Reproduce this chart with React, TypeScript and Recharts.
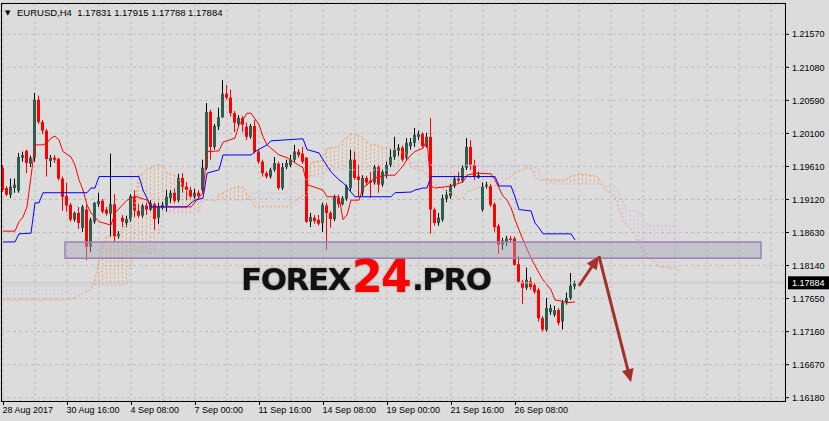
import React from 'react';
import { ComposedChart, Bar, Line, XAxis, YAxis, CartesianGrid, ReferenceArea, ReferenceLine } from 'recharts';

const W = 829;
const H = 421;
const BG = '#dcdcdc';
const FONT = "'Liberation Sans', Arial, sans-serif";

// ---- EURUSD H4 candles (bar 0 = 28 Aug 2017 00:00) ----
const candleOpen = [
  1.1959,1.1929,1.1919,1.1929,1.1925,1.1974,1.1984,1.1965,1.1974,1.2060,
  1.2027,1.2014,1.1969,1.1974,1.1972,1.1943,1.1917,1.1904,1.1882,1.1892,
  1.1870,1.1897,1.1842,1.1879,1.1905,1.1910,1.1897,1.1891,1.1905,1.1857,
  1.1885,1.1877,1.1882,1.1916,1.1895,1.1888,1.1903,1.1897,1.1905,1.1885,
  1.1900,1.1903,1.1914,1.1922,1.1911,1.1944,1.1931,1.1926,1.1916,1.1922,
  1.1926,1.1959,1.2042,1.1990,1.2020,1.2034,1.2069,1.2063,1.2040,1.2024,
  1.2033,1.2020,1.2005,1.2021,1.1983,1.1968,1.1951,1.1946,1.1956,1.1965,
  1.1929,1.1960,1.1963,1.1971,1.1983,1.1980,1.1974,1.1879,1.1885,1.1882,
  1.1877,1.1903,1.1892,1.1883,1.1914,1.1905,1.1913,1.1929,1.1971,1.1946,
  1.1922,1.1944,1.1940,1.1937,1.1960,1.1934,1.1949,1.1963,1.1975,1.1984,
  1.1989,1.1974,1.1991,1.1996,1.2005,1.2009,1.1991,1.2005,1.1897,1.1877,
  1.1882,1.1913,1.1917,1.1932,1.1943,1.1940,1.1959,1.1990,1.1963,1.1944,
  1.1897,1.1931,1.1932,1.1905,1.1873,1.1845,1.1849,1.1854,1.1854,1.1816,
  1.1790,1.1781,1.1791,1.1785,1.1778,1.1736,1.1719,1.1745,1.1741,1.1748,
  1.1731,1.1759,1.1766,1.17831,
];
const candleHigh = [
  1.1963,1.1932,1.1943,1.1943,1.1981,1.1983,1.1986,1.1977,1.2070,1.2066,
  1.2030,1.2017,1.1978,1.1978,1.1974,1.1946,1.1937,1.1907,1.1894,1.1901,
  1.1904,1.1904,1.1885,1.1908,1.1922,1.1913,1.1901,1.1980,1.1920,1.1865,
  1.1889,1.1888,1.1920,1.1926,1.1905,1.1905,1.1907,1.1911,1.1907,1.1907,
  1.1908,1.1926,1.1926,1.1928,1.1950,1.1951,1.1938,1.1931,1.1928,1.1926,
  1.1971,1.2055,1.2045,1.2024,1.2048,1.2089,1.2082,1.2075,1.2043,1.2037,
  1.2036,1.2026,1.2024,1.2030,1.1986,1.1971,1.1954,1.1959,1.1975,1.1968,
  1.1966,1.1971,1.1978,1.1993,1.1987,1.1990,1.1975,1.1892,1.1889,1.1889,
  1.1907,1.1907,1.1895,1.1919,1.1919,1.1917,1.1934,1.1986,1.1983,1.1963,
  1.1948,1.1947,1.1953,1.1963,1.1963,1.1956,1.1968,1.1986,1.2005,1.1994,
  1.1992,1.2003,1.2003,1.2018,1.2014,1.2012,1.2011,1.2033,1.1900,1.1892,
  1.1919,1.1926,1.1935,1.1947,1.1953,1.1963,1.2003,1.2000,1.1971,1.1953,
  1.1937,1.1938,1.1935,1.1908,1.1876,1.1855,1.1858,1.1858,1.1857,1.1828,
  1.1793,1.1811,1.1797,1.1788,1.1781,1.1739,1.1766,1.1756,1.1754,1.1751,
  1.1763,1.1774,1.1803,1.17915,
];
const candleLow = [
  1.1923,1.1917,1.1914,1.1922,1.1922,1.1968,1.1951,1.1960,1.1968,1.2024,
  1.2009,1.1946,1.1960,1.1966,1.1940,1.1895,1.1894,1.1879,1.1879,1.1868,
  1.1864,1.1822,1.1834,1.1876,1.1901,1.1891,1.1888,1.1857,1.1848,1.1854,
  1.1871,1.1871,1.1879,1.1886,1.1885,1.1885,1.1889,1.1895,1.1867,1.1876,
  1.1897,1.1894,1.1907,1.1907,1.1908,1.1922,1.1911,1.1913,1.1913,1.1914,
  1.1922,1.1956,1.1971,1.1986,1.2015,1.2033,1.2060,1.2035,1.2012,1.2021,
  1.2012,1.2000,1.2002,1.1980,1.1965,1.1946,1.1943,1.1943,1.1953,1.1926,
  1.1926,1.1957,1.1960,1.1968,1.1974,1.1965,1.1877,1.1871,1.1876,1.1873,
  1.1864,1.1837,1.1870,1.1880,1.1900,1.1903,1.1910,1.1925,1.1941,1.1916,
  1.1917,1.1932,1.1914,1.1934,1.1922,1.1931,1.1944,1.1960,1.1971,1.1977,
  1.1968,1.1971,1.1986,1.1990,1.2000,1.1989,1.1989,1.1861,1.1873,1.1873,
  1.1879,1.1908,1.1913,1.1929,1.1937,1.1937,1.1956,1.1956,1.1941,1.1943,
  1.1894,1.1928,1.1901,1.1864,1.1831,1.1837,1.1843,1.1849,1.1814,1.1788,
  1.1757,1.1778,1.1778,1.1772,1.1731,1.1716,1.1716,1.1741,1.1738,1.1725,
  1.1719,1.1756,1.1763,1.17788,
];
const candleClose = [
  1.1926,1.1919,1.1931,1.1934,1.1975,1.1978,1.1966,1.1974,1.2060,1.2027,
  1.2014,1.1972,1.1974,1.1971,1.1943,1.1916,1.1903,1.1882,1.1892,1.1877,
  1.1901,1.1842,1.1882,1.1907,1.1910,1.1894,1.1891,1.1905,1.1857,1.1861,
  1.1879,1.1883,1.1917,1.1895,1.1888,1.1903,1.1897,1.1907,1.1883,1.1901,
  1.1904,1.1916,1.1922,1.1910,1.1944,1.1931,1.1926,1.1916,1.1922,1.1917,
  1.1959,1.2042,1.1990,1.2021,1.2034,1.2069,1.2063,1.2040,1.2026,1.2033,
  1.2023,1.2005,1.2021,1.1983,1.1968,1.1951,1.1946,1.1956,1.1966,1.1929,
  1.1960,1.1966,1.1971,1.1983,1.1978,1.1968,1.1879,1.1886,1.1880,1.1876,
  1.1904,1.1892,1.1883,1.1916,1.1905,1.1914,1.1931,1.1971,1.1944,1.1941,
  1.1944,1.1937,1.1937,1.1960,1.1934,1.1953,1.1963,1.1975,1.1986,1.1989,
  1.1971,1.1996,1.1997,1.2008,1.2009,1.1991,1.2005,1.1897,1.1877,1.1885,
  1.1914,1.1919,1.1932,1.1943,1.1940,1.1959,1.1990,1.1963,1.1946,1.1948,
  1.1931,1.1934,1.1904,1.1871,1.1845,1.1851,1.1854,1.1852,1.1815,1.1790,
  1.1781,1.1793,1.1782,1.1775,1.1736,1.1719,1.1751,1.1751,1.1748,1.1729,
  1.1759,1.1766,1.1784,1.17884,
];

// ---- Ichimoku: Tenkan-sen (red) vertices ----
const tenkanBars = [0,3,4,5,6,7,8,10,11,12,13,14,15,17,18,19,20,21,22,24,27,28,31,33,36,37,47,48,50,51,54,55,58,59,60,61,62,64,65,66,69,71,75,76,80,81,84,85,86,87,89,90,93,96,98,100,101,102,103,105,106,107,108,111,113,115,116,118,122,123,125,126,127,128,130,132,134,135,137,138,139,141,143];
const tenkanVals = [1.1865,1.1865,1.1879,1.1886,1.1901,1.1946,1.1993,1.1993,1.1996,1.2003,1.2006,1.2000,1.1983,1.1975,1.1963,1.1941,1.1926,1.1904,1.1892,1.1879,1.1874,1.1892,1.1911,1.1917,1.1911,1.1901,1.1901,1.1908,1.1922,1.1983,1.1984,1.1997,1.2003,1.2023,1.2030,1.2040,1.2040,1.2023,1.2005,1.1993,1.1978,1.1974,1.1959,1.1934,1.1926,1.1916,1.1916,1.1882,1.1889,1.1911,1.1911,1.1929,1.1944,1.1948,1.1948,1.1962,1.1971,1.1978,1.1983,1.1988,1.2000,1.1932,1.1929,1.1931,1.1934,1.1938,1.1948,1.1951,1.1950,1.1941,1.1917,1.1911,1.1900,1.1882,1.1852,1.1825,1.1803,1.1793,1.1778,1.1763,1.1762,1.1759,1.1760];

// ---- Kijun-sen (blue) vertices ----
const kijunBars = [0,3,4,7,8,9,10,21,22,23,24,34,35,36,37,46,47,48,50,51,54,55,62,63,66,67,75,76,79,80,82,84,85,88,97,98,102,103,105,106,107,123,124,127,128,129,132,133,134,135,142,143];
const kijunVals = [1.1849,1.1849,1.1861,1.1862,1.1907,1.1907,1.1922,1.1922,1.1929,1.1929,1.1946,1.1946,1.1926,1.1914,1.1901,1.1901,1.1907,1.1911,1.1914,1.1951,1.1956,1.1978,1.1978,1.1983,1.1993,1.1999,1.2002,1.1986,1.1981,1.1971,1.1953,1.1941,1.1937,1.1916,1.1916,1.1922,1.1923,1.1926,1.1929,1.1929,1.1946,1.1946,1.1932,1.1932,1.1916,1.1897,1.1895,1.1877,1.1870,1.1861,1.1861,1.1852];

// ---- Senkou Span A (sandybrown) and B (thistle), per bar, 26 bars ahead ----
const senkouA = [
  1.1763,1.1763,1.1763,1.1763,1.1763,1.1763,1.1763,1.1763,1.1763,1.1763,
  1.1763,1.1763,1.1763,1.1763,1.1763,1.1763,1.1763,1.1763,1.1766,1.1769,
  1.1773,1.1775,1.1778,1.1793,1.1822,1.1848,1.1857,1.1857,1.1857,1.1857,
  1.1870,1.1874,1.1882,1.1904,1.1950,1.1950,1.1957,1.1959,1.1963,1.1964,
  1.1961,1.1952,1.1950,1.1948,1.1943,1.1931,1.1924,1.1913,1.1911,1.1908,
  1.1912,1.1911,1.1911,1.1910,1.1919,1.1922,1.1925,1.1928,1.1930,1.1931,
  1.1931,1.1920,1.1913,1.1901,1.1901,1.1901,1.1901,1.1901,1.1901,1.1901,
  1.1901,1.1901,1.1901,1.1908,1.1914,1.1918,1.1918,1.1967,1.1968,1.1969,
  1.1970,1.1988,1.1989,1.1990,1.1991,1.2000,1.2004,1.2009,1.2009,1.2007,
  1.2004,1.1997,1.1993,1.1994,1.1991,1.1989,1.1989,1.1987,1.1986,1.1983,
  1.1982,1.1980,1.1960,1.1957,1.1956,1.1954,1.1948,1.1939,1.1934,1.1931,
  1.1928,1.1923,1.1922,1.1917,1.1914,1.1914,1.1923,1.1925,1.1928,1.1930,
  1.1931,1.1931,1.1932,1.1932,1.1935,1.1939,1.1942,1.1946,1.1951,1.1954,
  1.1957,1.1959,1.1958,1.1946,1.1940,1.1942,1.1942,1.1941,1.1941,1.1941,
  1.1941,1.1942,1.1947,1.1948,1.1949,1.1949,1.1949,1.1948,1.1948,1.1943,
  1.1931,1.1925,1.1922,1.1916,1.1899,1.1882,1.1874,1.1867,1.1860,1.1846,
  1.1837,1.1827,1.1823,1.1819,1.1812,1.1811,1.1811,1.1810,1.1811,1.1806,
];
const senkouB = [
  1.1785,1.1785,1.1785,1.1785,1.1785,1.1785,1.1785,1.1785,1.1785,1.1785,
  1.1785,1.1785,1.1785,1.1785,1.1785,1.1785,1.1785,1.1785,1.1785,1.1785,
  1.1785,1.1785,1.1785,1.1785,1.1785,1.1785,1.1785,1.1785,1.1785,1.1785,
  1.1785,1.1785,1.1808,1.1833,1.1833,1.1833,1.1833,1.1833,1.1833,1.1859,
  1.1892,1.1892,1.1892,1.1892,1.1892,1.1892,1.1892,1.1892,1.1892,1.1892,
  1.1911,1.1911,1.1911,1.1911,1.1911,1.1911,1.1911,1.1911,1.1911,1.1911,
  1.1911,1.1911,1.1922,1.1922,1.1922,1.1922,1.1922,1.1922,1.1922,1.1922,
  1.1922,1.1922,1.1941,1.1941,1.1941,1.1941,1.1941,1.1946,1.1946,1.1946,
  1.1946,1.1956,1.1956,1.1956,1.1956,1.1956,1.1956,1.1956,1.1956,1.1956,
  1.1956,1.1956,1.1956,1.1956,1.1956,1.1956,1.1956,1.1956,1.1956,1.1962,
  1.1968,1.1968,1.1968,1.1968,1.1968,1.1968,1.1971,1.1963,1.1963,1.1963,
  1.1963,1.1963,1.1963,1.1963,1.1963,1.1963,1.1963,1.1963,1.1963,1.1963,
  1.1963,1.1963,1.1963,1.1963,1.1963,1.1963,1.1963,1.1963,1.1963,1.1963,
  1.1963,1.1963,1.1963,1.1960,1.1956,1.1940,1.1937,1.1937,1.1935,1.1935,
  1.1935,1.1935,1.1935,1.1935,1.1935,1.1935,1.1935,1.1935,1.1935,1.1935,
  1.1932,1.1932,1.1932,1.1932,1.1923,1.1911,1.1895,1.1895,1.1895,1.1895,
  1.1882,1.1874,1.1874,1.1874,1.1874,1.1874,1.1874,1.1874,1.1874,1.1874,
];

// ---- axes ----
const xLabelBars = [0, 16, 32, 48, 64, 80, 96, 112, 128];
const xLabels = ['28 Aug 2017', '30 Aug 16:00', '4 Sep 08:00', '7 Sep 00:00', '11 Sep 16:00', '14 Sep 08:00', '19 Sep 00:00', '21 Sep 16:00', '26 Sep 08:00'];
const yTicks = [1.2157, 1.2108, 1.2059, 1.201, 1.1961, 1.1912, 1.1863, 1.1814, 1.1765, 1.1716, 1.1667, 1.1618];
const yDomain = [1.16131, 1.22034];

// ---- annotations ----
const lastOHLC = ['1.17831', '1.17915', '1.17788', '1.17884'];
const lastPrice = 1.17884;
const zoneBars = [16, 189];
const zonePrices = [1.1825, 1.1849];
const arrowUp = [{ x: 144, y: 1.1784 }, { x: 149, y: 1.1828 }];
const arrowDown = [{ x: 149, y: 1.1828 }, { x: 157, y: 1.1641 }];

const SLOTS = 196;
const gridTicks = Array.from({ length: 25 }, (_, k) => k * 8);

const rows: any[] = Array.from({ length: SLOTS }, (_, i) => {
  const r: any = { i };
  if (i < candleOpen.length) {
    r.open = candleOpen[i];
    r.high = candleHigh[i];
    r.low = candleLow[i];
    r.close = candleClose[i];
  }
  if (i < senkouA.length) {
    r.spanA = senkouA[i];
    r.spanB = senkouB[i];
  }
  return r;
});
tenkanBars.forEach((b, k) => { rows[b].tenkan = tenkanVals[k]; });
kijunBars.forEach((b, k) => { rows[b].kijun = kijunVals[k]; });

const Candle = (props: any) => {
  const { x, y, width, height, payload } = props;
  if (!payload || payload.open == null || height == null) return null;
  const { open, close, high, low } = payload;
  const k = high - low > 0 ? height / (high - low) : 0;
  const cx = Math.round(x + width / 2) - 0.5;
  const oy = y + (high - open) * k;
  const cy = y + (high - close) * k;
  const bull = close >= open;
  const top = Math.min(oy, cy);
  const bh = Math.max(1, Math.abs(cy - oy));
  const col = bull ? '#2f5e51' : '#ff0000';
  return (
    <g>
      <line x1={cx} x2={cx} y1={y} y2={y + Math.max(1, height)} stroke={bull ? '#000' : '#ff0000'} strokeWidth={1} />
      <rect x={cx - 1.5} y={top} width={3} height={bh} fill={col} />
    </g>
  );
};

const Hatch = (props: any) => {
  const { x, y, width, height, payload } = props;
  if (!payload || payload.spanA == null || !height) return null;
  const up = payload.spanA >= payload.spanB;
  const cx = Math.round(x + width / 2) - 0.5;
  return <line x1={cx} x2={cx} y1={y} y2={y + height} stroke={up ? '#f4a460' : '#d8bfd8'} strokeWidth={1} strokeDasharray="2 2" strokeOpacity={0.9} />;
};

const XTick = (props: any) => {
  const { x, payload } = props;
  const idx = xLabelBars.indexOf(payload.value);
  if (idx < 0) return null;
  const px = Math.round(x) + 0.5;
  return (
    <g>
      <line x1={px} x2={px} y1={401} y2={405} stroke="#000" />
      <text x={px - 1} y={413} fontSize={9} fontFamily={FONT} fill="#000">{xLabels[idx]}</text>
    </g>
  );
};

const Arrow = (p: any) => {
  const { x1, y1, x2, y2 } = p;
  if ([x1, y1, x2, y2].some((v) => v == null || isNaN(v))) return null;
  const dx = x2 - x1;
  const dy = y2 - y1;
  const len = Math.hypot(dx, dy) || 1;
  const ux = dx / len;
  const uy = dy / len;
  const head = 13;
  const half = 6;
  const bx = x2 - ux * head;
  const by = y2 - uy * head;
  const pts = `${x2},${y2} ${bx - uy * half},${by + ux * half} ${bx + uy * half},${by - ux * half}`;
  return (
    <g>
      <line x1={x1} y1={y1} x2={bx + ux * 2} y2={by + uy * 2} stroke="#a5302a" strokeWidth={3} />
      <polygon points={pts} fill="#a5302a" />
    </g>
  );
};

const PriceTag = (props: any) => {
  const vb = props && props.viewBox;
  if (!vb) return null;
  const right = vb.x + (vb.width || 0);
  const yy = vb.y;
  return (
    <g>
      <rect x={right + 3} y={yy - 6.5} width={41} height={13} fill="#000" />
      <text x={right + 7} y={yy + 3.5} fontSize={9} fontFamily={FONT} fill="#fff">{lastPrice.toFixed(5)}</text>
    </g>
  );
};

export default function App() {
  return (
    <div style={{ position: 'absolute', left: 0, top: 0, width: W, height: H, background: BG, overflow: 'hidden' }}>
      <ComposedChart width={W} height={H} data={rows} margin={{ top: 3, right: 0, bottom: 0, left: 1 }} barCategoryGap={0} barGap={0}>
        <CartesianGrid stroke="#bdbdbd" strokeDasharray="3 3" />
        <XAxis dataKey="i" type="category" ticks={gridTicks} interval={0} tick={<XTick />} tickLine={false} axisLine={false} height={20} />
        <XAxis xAxisId="h" dataKey="i" type="category" hide />
        <YAxis
          orientation="right"
          type="number"
          domain={yDomain}
          allowDataOverflow
          ticks={yTicks}
          interval={0}
          tickFormatter={(v: number) => v.toFixed(5)}
          width={44}
          tickSize={4}
          tickMargin={3}
          axisLine={false}
          tickLine={{ stroke: '#000' }}
          tick={{ fontSize: 9, fill: '#000', fontFamily: FONT }}
        />
        <Bar xAxisId="h" dataKey={(r: any) => (r.spanA == null ? null : [Math.min(r.spanA, r.spanB), Math.max(r.spanA, r.spanB)])} shape={Hatch} isAnimationActive={false} />
        <Line dataKey="spanA" stroke="#f4a460" strokeWidth={1} strokeDasharray="2 2" dot={false} activeDot={false} isAnimationActive={false} />
        <Line dataKey="spanB" stroke="#d8bfd8" strokeWidth={1} strokeDasharray="2 2" dot={false} activeDot={false} isAnimationActive={false} />
        <Bar dataKey={(r: any) => (r.open == null ? null : [r.low, r.high])} shape={Candle} isAnimationActive={false} />
        <Line dataKey="tenkan" stroke="#ff0000" strokeWidth={1} connectNulls dot={false} activeDot={false} isAnimationActive={false} />
        <Line dataKey="kijun" stroke="#0000ff" strokeWidth={1} connectNulls dot={false} activeDot={false} isAnimationActive={false} />
        <ReferenceLine y={lastPrice} stroke="#c2c2c2" strokeWidth={1} label={PriceTag} ifOverflow="visible" />
        <ReferenceArea x1={zoneBars[0]} x2={zoneBars[1]} y1={zonePrices[0]} y2={zonePrices[1]} fill="#a6a6b6" fillOpacity={0.45} stroke="#9c80b8" strokeWidth={1.5} ifOverflow="visible" zIndex={450} />
        <ReferenceLine segment={arrowUp} shape={Arrow} ifOverflow="visible" zIndex={600} />
        <ReferenceLine segment={arrowDown} shape={Arrow} ifOverflow="visible" zIndex={600} />
      </ComposedChart>
      <div style={{ position: 'absolute', left: 1, top: 3, width: 785, height: 399, border: '1px solid #000', boxSizing: 'border-box', pointerEvents: 'none' }} />
      <svg width={W} height={H} style={{ position: 'absolute', left: 0, top: 0, pointerEvents: 'none' }}>
        <text x={5} y={14.5} fontSize={7} fontFamily="'DejaVu Sans', sans-serif" fill="#000">▼</text>
        <text x={17} y={15.5} fontSize={9.5} fontFamily={FONT} fill="#000" style={{ whiteSpace: 'pre' }}>
          {'EURUSD,H4  ' + lastOHLC.join(' ')}
        </text>
        <text fontFamily="'DejaVu Sans', sans-serif" fontWeight="bold" style={{ filter: 'drop-shadow(0 0 1px rgba(0,0,0,0.35))' }}>
          <tspan x={241} y={290} fontSize={31} letterSpacing={-1.5} fill="#111">FOREX</tspan>
          <tspan x={352} y={292} fontSize={44} letterSpacing={-1.5} fill="#ff0000">24</tspan>
          <tspan x={412} y={290} fontSize={31} letterSpacing={-1.5} fill="#111">.PRO</tspan>
        </text>
      </svg>
    </div>
  );
}
